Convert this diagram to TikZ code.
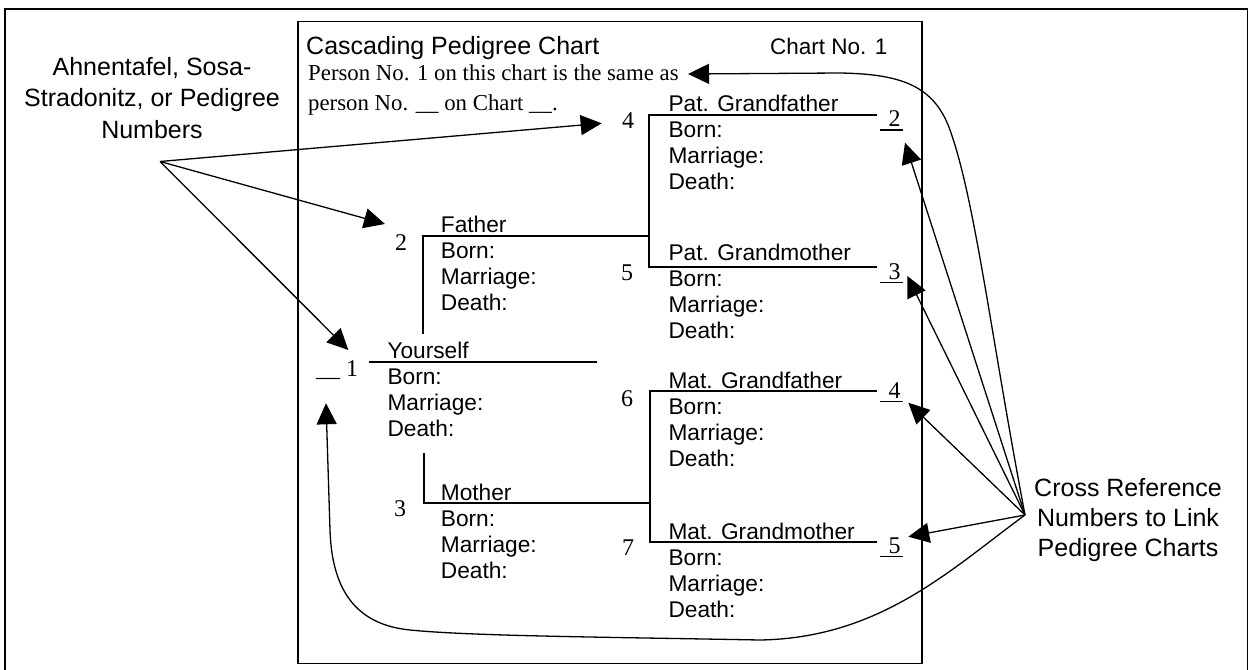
\documentclass[tikz,border=0pt]{standalone}
\usepackage{fontspec}
\setmainfont{Liberation Sans}
\newfontfamily\tms{Liberation Serif}
\usetikzlibrary{arrows.meta}
% cross-reference number with a heavy underline
\newcommand\ulnum[1]{\rlap{\rule[-3.8pt]{23pt}{1.3pt}}\kern8.5pt#1}

\begin{document}
\begin{tikzpicture}[x=1pt,y=-1pt,
  frame/.style={line width=1.6pt},
  tree/.style={line width=1.7pt},
  arr/.style={line width=1.3pt,-{Triangle[length=21pt,width=20pt]}},
  person/.style={anchor=base west,inner sep=0,align=left,font=\fontsize{22.7}{26}\selectfont},
  gen/.style={anchor=base west,inner sep=0,font=\tms\fontsize{24}{26}\selectfont},
  xref/.style={anchor=base west,inner sep=0,font=\tms\fontsize{24}{26}\selectfont},
  callout/.style={anchor=base,inner sep=0,align=center},
]
\useasboundingbox (0,0) rectangle (1249,669);

% outer and inner frames
\draw[frame] (5,9.3) rectangle (1247.3,700);
\draw[frame] (297.7,21.7) rectangle (921.7,663.3);

% chart header (multi-line nodes sit on their last baseline)
\node[anchor=base west,inner sep=0,font=\fontsize{25}{30}\selectfont] (title) at (306,55) {Cascading Pedigree Chart};
\node[anchor=base west,inner sep=0,font=\fontsize{22.5}{26}\selectfont] (chartno) at (770,54.3) {Chart No. 1};
\node[anchor=base west,inner sep=0,align=left,font=\tms\fontsize{22.8}{29}\selectfont] (same) at (308,110)
  {Person No. 1 on this chart is the same as\\person No. \_\_ on Chart \_\_.};

% tree lines
\draw[tree] (369.3,361.7) -- (597.3,361.7);
\draw[tree] (423.3,334) -- (423.3,235.7) -- (650,235.7);
\draw[tree] (424,453.3) -- (424,502.7) -- (650.7,502.7);
\draw[tree] (876.7,115) -- (649.3,115) -- (649.3,267.3) -- (876.7,267.3);
\draw[tree] (876.7,391) -- (650,391) -- (650,542.3) -- (876.7,542.3);

% persons
\node[person] (you) at (387.3,436.7) {Yourself\\Born:\\Marriage:\\Death:};
\node[person] (father) at (440.7,310) {Father\\Born:\\Marriage:\\Death:};
\node[person] (mother) at (440.7,578.3) {Mother\\Born:\\Marriage:\\Death:};
\node[person] (pgf) at (668.3,189.3) {Pat. Grandfather\\Born:\\Marriage:\\Death:};
\node[person] (pgm) at (668.3,338.3) {Pat. Grandmother\\Born:\\Marriage:\\Death:};
\node[person] (mgf) at (668.3,466.7) {Mat. Grandfather\\Born:\\Marriage:\\Death:};
\node[person] (mgm) at (668.3,617.7) {Mat. Grandmother\\Born:\\Marriage:\\Death:};

% pedigree numbers
\node[gen] (g1) at (316,376.7) {\_\_\ 1};
\node[gen] (g2) at (395,250) {2};
\node[gen] (g3) at (394,516.7) {3};
\node[gen] (g4) at (622,128) {4};
\node[gen] (g5) at (621,280) {5};
\node[gen] (g6) at (621,406.7) {6};
\node[gen] (g7) at (622,555) {7};

% cross reference numbers
\node[xref] (x2) at (880,126.7) {\ulnum{2}};
\node[xref] (x3) at (880,279) {\ulnum{3}};
\node[xref] (x4) at (880,398.5) {\ulnum{4}};
\node[xref] (x5) at (880,553.3) {\ulnum{5}};

% callouts
\node[callout,font=\fontsize{25}{31.7}\selectfont] (ahnen) at (152,138.6)
  {Ahnentafel, Sosa-\\Stradonitz, or Pedigree\\Numbers};
\node[callout,font=\fontsize{25}{30}\selectfont] (xrefs) at (1128,556.7)
  {Cross Reference\\Numbers to Link\\Pedigree Charts};

% pointer origins and targets
\coordinate (L) at (160,161.5);
\coordinate (R) at (1025,515);
\coordinate (to4) at (601.7,123.3);
\coordinate (to2) at (385,224);
\coordinate (to1) at (348.3,350);
\coordinate (tox2) at (905,142.7);
\coordinate (tox3) at (907.3,276);
\coordinate (tox4) at (908.3,402.7);
\coordinate (tox5) at (908.3,536.7);
\coordinate (tosame) at (688,74);
\coordinate (tounder) at (326,403.3);

\draw[arr] (L) -- (to4);
\draw[arr] (L) -- (to2);
\draw[arr] (L) -- (to1);

\draw[arr] (R) -- (tox2);
\draw[arr] (R) -- (tox3);
\draw[arr] (R) -- (tox4);
\draw[arr] (R) -- (tox5);
\draw[arr] (R) .. controls (990,330) and (975,200) .. (950,130)
  .. controls (934,85) and (900,74) .. (840,73) -- (tosame);
\draw[arr] (R) .. controls (950,570) and (880,638) .. (760,640)
  .. controls (600,637) and (470,636) .. (410,630)
  .. controls (360,625) and (332,595) .. (330,530) -- (tounder);
\end{tikzpicture}
\end{document}
